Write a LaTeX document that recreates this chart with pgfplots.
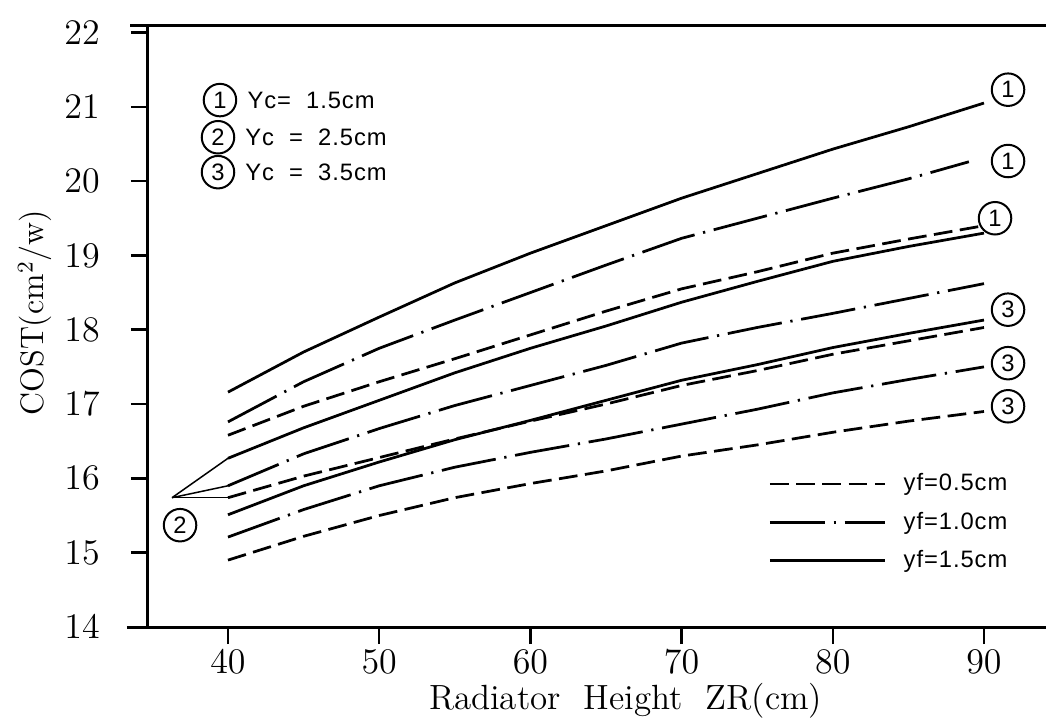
\documentclass[border=0pt]{standalone}
\usepackage{fontspec}
\usepackage{pgfplots}
\pgfplotsset{compat=1.18}
\newfontfamily\plotsans[LetterSpace=4.0]{Liberation Sans}
\newfontfamily\circsans{Liberation Sans}

\tikzset{
  yfdash/.style={line width=1.1pt, dash pattern=on 7.5pt off 3pt},
  yfdashdot/.style={line width=1.1pt, dash pattern=on 22pt off 3.5pt on 0.9pt off 3.5pt},
  yfsolid/.style={line width=1.1pt},
  joinline/.style={line width=0.6pt},
  circnum/.style={draw, circle, line width=0.8pt, minimum size=13pt, inner sep=0pt,
                  font=\circsans\fontsize{9.5}{10}\selectfont},
  sidetext/.style={anchor=west, inner sep=0pt, font=\plotsans\fontsize{9.5}{11}\selectfont}
}

\begin{document}
\begin{tikzpicture}
\begin{axis}[
  at={(0,0)}, anchor=south west,
  scale only axis, width=359.2pt, height=240.8pt,
  xmin=34.71, xmax=94.1, ymin=14, ymax=22.1,
  xtick={40,50,...,90}, ytick={14,...,22},
  tick pos=left, tick align=outside, major tick length=6.8pt,
  tick style={line width=1pt, black},
  axis line style={draw=none},
  clip=false,
  ticklabel style={font=\fontsize{13.5}{15}\selectfont},
  y tick label style={xshift=-9pt},
  x tick label style={yshift=1pt},
  legend style={draw=none, fill=none, at={(axis cs:75.71,16.14)}, anchor=north west,
                inner sep=0pt, row sep=3pt,
                font=\plotsans\fontsize{9.5}{11}\selectfont,
                /tikz/every odd column/.append style={column sep=5pt}},
  legend cell align=left,
  legend image code/.code={\draw[#1, line width=1.1pt] (0pt,0pt) -- (46pt,0pt);},
]
% frame: left, bottom and top rules
\draw[line width=1.2pt] (axis cs:33.52,22.1) -- (axis cs:94.1,22.1);
\draw[line width=1.2pt] (axis cs:33.32,14) -- (axis cs:94.1,14);
\draw[line width=1.2pt] (axis cs:34.71,14) -- (axis cs:34.71,22.1);

% Yc = 1.5 cm
\addplot[yfdash] coordinates {(40,16.58)(45,16.97)(50,17.30)(55,17.61)(60,17.93)(65,18.25)(70,18.55)(75,18.78)(80,19.03)(85,19.22)(90,19.40)};
\addlegendentry{yf=0.5cm}
\addplot[yfdashdot] coordinates {(40,16.76)(45,17.30)(50,17.75)(55,18.13)(60,18.50)(65,18.87)(70,19.23)(75,19.50)(80,19.77)(85,20.03)(89,20.26)};
\addlegendentry{yf=1.0cm}
\addplot[yfsolid] coordinates {(40,17.16)(45,17.70)(50,18.17)(55,18.63)(60,19.03)(65,19.40)(70,19.77)(75,20.10)(80,20.43)(85,20.73)(90,21.05)};
\addlegendentry{yf=1.5cm}

% Yc = 2.5 cm
\addplot[yfsolid, forget plot] coordinates {(40,16.27)(45,16.68)(50,17.05)(55,17.42)(60,17.75)(65,18.05)(70,18.37)(75,18.65)(80,18.92)(85,19.12)(90,19.30)};
\addplot[yfdashdot, forget plot] coordinates {(40,15.90)(45,16.33)(50,16.67)(55,16.98)(60,17.25)(65,17.52)(70,17.82)(75,18.03)(80,18.22)(85,18.42)(90,18.62)};
\addplot[yfdash, forget plot] coordinates {(40,15.74)(45,16.03)(50,16.28)(55,16.53)(60,16.77)(65,17.00)(70,17.25)(75,17.45)(80,17.67)(85,17.85)(90,18.03)};
\addplot[joinline, forget plot] coordinates {(36.3,15.74)(40,16.27)};
\addplot[joinline, forget plot] coordinates {(36.3,15.74)(40,15.90)};
\addplot[joinline, forget plot] coordinates {(36.3,15.74)(40,15.74)};

% Yc = 3.5 cm
\addplot[yfsolid, forget plot] coordinates {(40,15.51)(45,15.90)(50,16.22)(55,16.52)(60,16.78)(65,17.05)(70,17.32)(75,17.53)(80,17.76)(85,17.95)(90,18.13)};
\addplot[yfdashdot, forget plot] coordinates {(40,15.21)(45,15.58)(50,15.90)(55,16.15)(60,16.35)(65,16.53)(70,16.73)(75,16.93)(80,17.15)(85,17.33)(90,17.50)};
\addplot[yfdash, forget plot] coordinates {(40,14.90)(45,15.22)(50,15.50)(55,15.74)(60,15.93)(65,16.10)(70,16.30)(75,16.45)(80,16.62)(85,16.77)(90,16.90)};

% curve tags
\node[circnum] at (axis cs:91.59,21.23) {1};
\node[circnum] at (axis cs:91.59,20.27) {1};
\node[circnum] at (axis cs:90.73,19.50) {1};
\node[circnum] at (axis cs:91.59,18.27) {3};
\node[circnum] at (axis cs:91.59,17.55) {3};
\node[circnum] at (axis cs:91.59,16.97) {3};
\node[circnum] at (axis cs:36.83,15.37) {2};

% key for the tags
\node[circnum] at (axis cs:39.47,21.09) {1};
\node[sidetext] at (axis cs:41.26,21.09) {Yc=\ \ 1.5cm};
\node[circnum] at (axis cs:39.34,20.59) {2};
\node[sidetext] at (axis cs:41.12,20.59) {Yc\ \ =\ \ 2.5cm};
\node[circnum] at (axis cs:39.34,20.12) {3};
\node[sidetext] at (axis cs:41.12,20.12) {Yc\ \ =\ \ 3.5cm};

% axis titles
\node[font=\fontsize{14}{16}\selectfont, yshift=-29.6pt] at (axis cs:66.3,14) {Radiator\ \ Height\ \ ZR(cm)};
\path (axis cs:34.71,18.23) ++(-45.2pt,0pt) node[rotate=90, font=\fontsize{13}{15}\selectfont] {COST(cm$^{2}$/w)};
\end{axis}
\pgfresetboundingbox
\path[use as bounding box] (-59.2pt,-38.8pt) rectangle (359.2pt,250.8pt);
\end{tikzpicture}
\end{document}
